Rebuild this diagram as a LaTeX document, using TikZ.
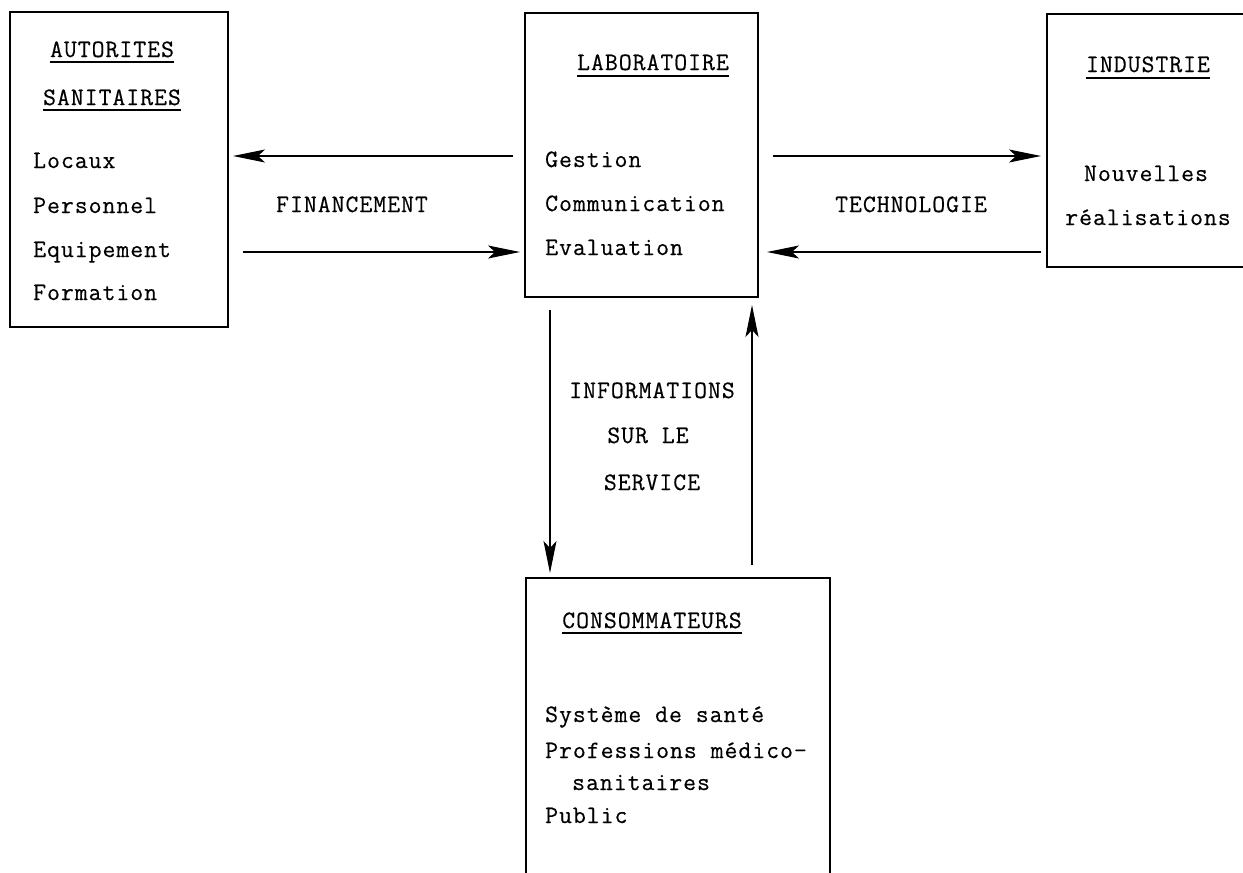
\documentclass[tikz,border=0pt]{standalone}
\usepackage{fontspec}
\setmonofont{Latin Modern Mono}[LetterSpace=4,FakeBold=0.4]
\usetikzlibrary{arrows.meta}
\begin{document}
\begin{tikzpicture}[x=1pt,y=-1pt,
  box/.style={draw, line width=1.8pt, inner sep=0pt, outer sep=0pt, anchor=north west},
  txt/.style={font=\ttfamily\fontsize{25}{30}\selectfont, inner sep=0pt, anchor=base west},
  ctxt/.style={txt, anchor=base},
  ul/.style={line width=2.4pt},
  arr/.style={line width=1.3pt, -{Stealth[length=32pt,width=13pt,inset=7pt]}}
]
\useasboundingbox (0,0) rectangle (1243,873);
\fill[white] (0,0) rectangle (1243,873);

% boxes
\node[box, minimum width=218pt, minimum height=315pt] (aut) at (10,12) {};
\node[box, minimum width=233pt, minimum height=284pt] (lab) at (525,13) {};
\node[box, minimum width=215pt, minimum height=253pt] (ind) at (1047,14) {};
\node[box, minimum width=304pt, minimum height=312pt] (con) at (526,578) {};

% AUTORITES SANITAIRES
\node[ctxt] (h1) at (112,57) {AUTORITES};
\node[ctxt] (h2) at (112,105) {SANITAIRES};
\draw[ul] ([yshift=-5pt]h1.base west) -- ([yshift=-5pt]h1.base east);
\draw[ul] ([yshift=-5pt]h2.base west) -- ([yshift=-5pt]h2.base east);
\node[txt] (a1) at (33,168) {Locaux};
\node[txt] (a2) at (33,213) {Personnel};
\node[txt] (a3) at (33,257) {Equipement};
\node[txt] (a4) at (33,300) {Formation};

% LABORATOIRE
\node[ctxt] (h3) at (653,70) {LABORATOIRE};
\draw[ul] ([yshift=-6pt]h3.base west) -- ([yshift=-6pt]h3.base east);
\node[txt] (l1) at (545,167) {Gestion};
\node[txt] (l2) at (545,211) {Communication};
\node[txt] (l3) at (545,255) {Evaluation};

% INDUSTRIE
\node[ctxt] (h4) at (1148,72) {INDUSTRIE};
\draw[ul] ([yshift=-6pt]h4.base west) -- ([yshift=-6pt]h4.base east);
\node[ctxt] (i1) at (1146,181) {Nouvelles};
\node[ctxt] (i2) at (1148,225) {réalisations};

% CONSOMMATEURS
\node[ctxt] (h5) at (652,628) {CONSOMMATEURS};
\draw[ul] ([yshift=-5pt]h5.base west) -- ([yshift=-5pt]h5.base east);
\node[txt] (c1) at (545,722) {Système de santé};
\node[txt] (c2) at (545,758) {Professions médico-};
\node[txt] (c3) at (572,790) {sanitaires};
\node[txt] (c4) at (545,823) {Public};

% labels on connectors
\node[ctxt] (fin) at (352,212) {FINANCEMENT};
\node[ctxt] (tec) at (911,212) {TECHNOLOGIE};
\node[ctxt] (inf1) at (652,398) {INFORMATIONS};
\node[ctxt] (inf2) at (648,443) {SUR LE};
\node[ctxt] (inf3) at (652,490) {SERVICE};

% connectors
\draw[arr] ([shift={(-12,143)}]lab.north west) -- ([shift={(5,144)}]aut.north east);
\draw[arr] ([shift={(15,240)}]aut.north east) -- ([shift={(-5,239)}]lab.north west);
\draw[arr] ([shift={(15,143)}]lab.north east) -- ([shift={(-6,142)}]ind.north west);
\draw[arr] ([shift={(-6,238)}]ind.north west) -- ([shift={(9,239)}]lab.north east);
\draw[arr] ([shift={(25,13)}]lab.south west) -- ([shift={(24,-5)}]con.north west);
\draw[arr] ([shift={(226,-13)}]con.north west) -- ([shift={(227,8)}]lab.south west);
\end{tikzpicture}
\end{document}
